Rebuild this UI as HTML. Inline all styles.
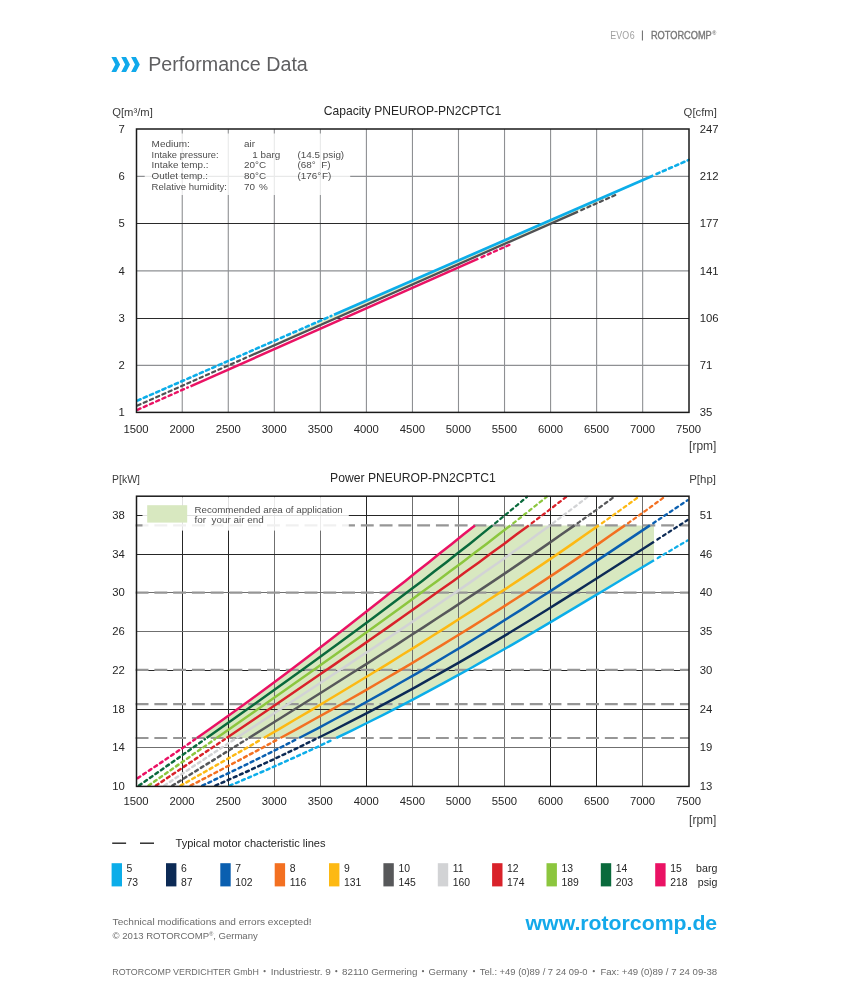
<!DOCTYPE html>
<html><head><meta charset="utf-8"><title>Performance Data</title>
<style>
html,body{margin:0;padding:0;background:#fff;}
body{width:862px;height:1000px;overflow:hidden;font-family:"Liberation Sans",sans-serif;}
svg{display:block;will-change:transform;font-family:"Liberation Sans",sans-serif;}
</style></head><body>
<svg width="862" height="1000" viewBox="0 0 862 1000">
<rect width="862" height="1000" fill="#fff"/>
<text x="610.3" y="38.7" font-size="10" fill="#a0a0a0" textLength="24.4" lengthAdjust="spacingAndGlyphs">EVO 6</text>
<line x1="642.4" y1="30.5" x2="642.4" y2="40.5" stroke="#666" stroke-width="1"/>
<text x="650.9" y="38.7" font-size="10" fill="#777" textLength="60.9" lengthAdjust="spacingAndGlyphs" stroke="#777" stroke-width="0.35">ROTORCOMP</text>
<text x="712.2" y="35.2" font-size="5.5" fill="#7a7a7a" font-weight="bold">®</text>
<path d="M111.40 56.9 h4.8 l3.9 7.6 l-3.9 7.6 h-4.8 l3.9 -7.6 z" fill="#10a9eb"/>
<path d="M121.25 56.9 h4.8 l3.9 7.6 l-3.9 7.6 h-4.8 l3.9 -7.6 z" fill="#10a9eb"/>
<path d="M131.10 56.9 h4.8 l3.9 7.6 l-3.9 7.6 h-4.8 l3.9 -7.6 z" fill="#10a9eb"/>
<text x="148.2" y="71.4" font-size="19.6" fill="#5f5f61" textLength="159.6" lengthAdjust="spacingAndGlyphs">Performance Data</text>
<text x="323.7" y="114.6" font-size="12.6" fill="#262626" textLength="177.6" lengthAdjust="spacingAndGlyphs">Capacity PNEUROP-PN2CPTC1</text>
<text x="112.2" y="115.8" font-size="11.8" fill="#3c3c3c" textLength="40.6" lengthAdjust="spacingAndGlyphs">Q[m³/m]</text>
<text x="683.6" y="115.8" font-size="11.8" fill="#3c3c3c" textLength="33.3" lengthAdjust="spacingAndGlyphs">Q[cfm]</text>
<line x1="182.24" y1="129.0" x2="182.24" y2="412.4" stroke="#8e9093" stroke-width="1.1"/>
<line x1="228.28" y1="129.0" x2="228.28" y2="412.4" stroke="#8e9093" stroke-width="1.1"/>
<line x1="274.32" y1="129.0" x2="274.32" y2="412.4" stroke="#8e9093" stroke-width="1.1"/>
<line x1="320.37" y1="129.0" x2="320.37" y2="412.4" stroke="#8e9093" stroke-width="1.1"/>
<line x1="366.41" y1="129.0" x2="366.41" y2="412.4" stroke="#8e9093" stroke-width="1.1"/>
<line x1="412.45" y1="129.0" x2="412.45" y2="412.4" stroke="#8e9093" stroke-width="1.1"/>
<line x1="458.49" y1="129.0" x2="458.49" y2="412.4" stroke="#8e9093" stroke-width="1.1"/>
<line x1="504.53" y1="129.0" x2="504.53" y2="412.4" stroke="#8e9093" stroke-width="1.1"/>
<line x1="550.58" y1="129.0" x2="550.58" y2="412.4" stroke="#8e9093" stroke-width="1.1"/>
<line x1="596.62" y1="129.0" x2="596.62" y2="412.4" stroke="#8e9093" stroke-width="1.1"/>
<line x1="642.66" y1="129.0" x2="642.66" y2="412.4" stroke="#8e9093" stroke-width="1.1"/>
<line x1="136.5" y1="176.30" x2="689.0" y2="176.30" stroke="#8e9093" stroke-width="1.15"/>
<line x1="136.5" y1="223.50" x2="689.0" y2="223.50" stroke="#2a2a2a" stroke-width="1"/>
<line x1="136.5" y1="270.90" x2="689.0" y2="270.90" stroke="#8e9093" stroke-width="1.15"/>
<line x1="136.5" y1="318.50" x2="689.0" y2="318.50" stroke="#2a2a2a" stroke-width="1"/>
<line x1="136.5" y1="365.40" x2="689.0" y2="365.40" stroke="#8e9093" stroke-width="1.15"/>
<text x="124.9" y="132.7" font-size="11.3" fill="#262626" text-anchor="end">7</text>
<text x="699.7" y="132.7" font-size="11.3" fill="#262626">247</text>
<text x="124.9" y="180.0" font-size="11.3" fill="#262626" text-anchor="end">6</text>
<text x="699.7" y="180.0" font-size="11.3" fill="#262626">212</text>
<text x="124.9" y="227.2" font-size="11.3" fill="#262626" text-anchor="end">5</text>
<text x="699.7" y="227.2" font-size="11.3" fill="#262626">177</text>
<text x="124.9" y="274.6" font-size="11.3" fill="#262626" text-anchor="end">4</text>
<text x="699.7" y="274.6" font-size="11.3" fill="#262626">141</text>
<text x="124.9" y="322.2" font-size="11.3" fill="#262626" text-anchor="end">3</text>
<text x="699.7" y="322.2" font-size="11.3" fill="#262626">106</text>
<text x="124.9" y="369.1" font-size="11.3" fill="#262626" text-anchor="end">2</text>
<text x="699.7" y="369.1" font-size="11.3" fill="#262626">71</text>
<text x="124.9" y="416.1" font-size="11.3" fill="#262626" text-anchor="end">1</text>
<text x="699.7" y="416.1" font-size="11.3" fill="#262626">35</text>
<text x="136.1" y="432.6" font-size="11.3" fill="#262626" text-anchor="middle">1500</text>
<text x="182.1" y="432.6" font-size="11.3" fill="#262626" text-anchor="middle">2000</text>
<text x="228.2" y="432.6" font-size="11.3" fill="#262626" text-anchor="middle">2500</text>
<text x="274.2" y="432.6" font-size="11.3" fill="#262626" text-anchor="middle">3000</text>
<text x="320.3" y="432.6" font-size="11.3" fill="#262626" text-anchor="middle">3500</text>
<text x="366.3" y="432.6" font-size="11.3" fill="#262626" text-anchor="middle">4000</text>
<text x="412.4" y="432.6" font-size="11.3" fill="#262626" text-anchor="middle">4500</text>
<text x="458.4" y="432.6" font-size="11.3" fill="#262626" text-anchor="middle">5000</text>
<text x="504.4" y="432.6" font-size="11.3" fill="#262626" text-anchor="middle">5500</text>
<text x="550.5" y="432.6" font-size="11.3" fill="#262626" text-anchor="middle">6000</text>
<text x="596.5" y="432.6" font-size="11.3" fill="#262626" text-anchor="middle">6500</text>
<text x="642.6" y="432.6" font-size="11.3" fill="#262626" text-anchor="middle">7000</text>
<text x="688.6" y="432.6" font-size="11.3" fill="#262626" text-anchor="middle">7500</text>
<text x="689.1" y="450.3" font-size="12.6" fill="#3c3c3c" textLength="27.2" lengthAdjust="spacingAndGlyphs">[rpm]</text>
<polygon points="334,314.8 653,175.5 578,211.6 248.8,356.5" fill="#e6eecb"/>
<line x1="137.5" y1="409.8" x2="187.9" y2="387.4" stroke="#ea1264" stroke-width="2.4" stroke-linecap="round" stroke-dasharray="3.3 3.5"/>
<line x1="190.5" y1="386.3" x2="478.3" y2="258.7" stroke="#ea1264" stroke-width="2.5"/>
<line x1="481.5" y1="257.3" x2="512.1" y2="243.7" stroke="#ea1264" stroke-width="2.4" stroke-linecap="round" stroke-dasharray="3.3 3.5"/>
<line x1="137.5" y1="405.5" x2="246.2" y2="357.6" stroke="#505153" stroke-width="2.1999999999999997" stroke-linecap="round" stroke-dasharray="3.3 3.5"/>
<line x1="248.8" y1="356.5" x2="578.0" y2="211.6" stroke="#505153" stroke-width="2.3"/>
<line x1="581.2" y1="210.2" x2="617.8" y2="194.0" stroke="#505153" stroke-width="2.1999999999999997" stroke-linecap="round" stroke-dasharray="3.3 3.5"/>
<line x1="137.5" y1="400.6" x2="331.4" y2="315.9" stroke="#0cade9" stroke-width="2.6" stroke-linecap="round" stroke-dasharray="3.3 3.5"/>
<line x1="334.0" y1="314.8" x2="653.3" y2="175.4" stroke="#0cade9" stroke-width="2.7"/>
<line x1="656.5" y1="174.0" x2="688.8" y2="159.9" stroke="#0cade9" stroke-width="2.6" stroke-linecap="round" stroke-dasharray="3.3 3.5"/>
<rect x="144.7" y="133.5" width="205.5" height="61.5" fill="#fff" fill-opacity="0.8"/>
<text x="151.6" y="147.3" font-size="9.9" fill="#4d4d4d" textLength="38.2" lengthAdjust="spacingAndGlyphs">Medium:</text>
<text x="244" y="147.3" font-size="9.9" fill="#4d4d4d" xml:space="preserve">air</text>
<text x="151.6" y="157.9" font-size="9.9" fill="#4d4d4d" textLength="67" lengthAdjust="spacingAndGlyphs">Intake pressure:</text>
<text x="241.2" y="157.9" font-size="9.9" fill="#4d4d4d" xml:space="preserve">  1 barg</text>
<text x="297.5" y="157.9" font-size="9.9" fill="#4d4d4d" xml:space="preserve">(14.5 psig)</text>
<text x="151.6" y="168.4" font-size="9.9" fill="#4d4d4d" textLength="56.9" lengthAdjust="spacingAndGlyphs">Intake temp.:</text>
<text x="244" y="168.4" font-size="9.9" fill="#4d4d4d" xml:space="preserve">20°C</text>
<text x="297.5" y="168.4" font-size="9.9" fill="#4d4d4d" xml:space="preserve">(68° F)</text>
<text x="151.6" y="179.0" font-size="9.9" fill="#4d4d4d" textLength="56.5" lengthAdjust="spacingAndGlyphs">Outlet temp.:</text>
<text x="244" y="179.0" font-size="9.9" fill="#4d4d4d" xml:space="preserve">80°C</text>
<text x="297.5" y="179.0" font-size="9.9" fill="#4d4d4d" xml:space="preserve">(176° F)</text>
<text x="151.6" y="189.5" font-size="9.9" fill="#4d4d4d" textLength="75.4" lengthAdjust="spacingAndGlyphs">Relative humidity:</text>
<text x="244" y="189.5" font-size="9.9" fill="#4d4d4d" xml:space="preserve">70  %</text>
<rect x="136.5" y="129.0" width="552.5" height="283.4" fill="none" stroke="#1a1a1a" stroke-width="1.5"/>
<text x="330.1" y="482.1" font-size="12.6" fill="#262626" textLength="165.6" lengthAdjust="spacingAndGlyphs">Power PNEUROP-PN2CPTC1</text>
<text x="112.1" y="482.7" font-size="11.8" fill="#3c3c3c" textLength="27.8" lengthAdjust="spacingAndGlyphs">P[kW]</text>
<text x="689.2" y="482.7" font-size="11.8" fill="#3c3c3c" textLength="26.8" lengthAdjust="spacingAndGlyphs">P[hp]</text>
<polygon points="196.9,738.0 212.9,726.8 228.6,715.6 244.1,704.4 259.4,693.2 274.5,682.1 289.5,670.9 304.3,659.7 319.0,648.5 333.5,637.3 347.9,626.1 362.3,614.9 376.5,603.7 390.7,592.5 404.8,581.3 418.9,570.2 432.9,559.0 446.9,547.8 460.9,536.6 475.0,525.4 654.0,525.4 654.0,560.3 638.3,569.7 622.7,579.0 607.1,588.4 591.5,597.7 575.9,607.1 560.2,616.4 544.4,625.8 528.5,635.1 512.4,644.5 496.1,653.8 479.6,663.2 462.9,672.5 445.8,681.9 428.5,691.2 410.8,700.6 392.8,709.9 374.4,719.3 355.5,728.6 336.2,738.0" fill="#d8e8c0"/>
<line x1="182.5" y1="496.2" x2="182.5" y2="786.4" stroke="#262626" stroke-width="1"/>
<line x1="228.5" y1="496.2" x2="228.5" y2="786.4" stroke="#262626" stroke-width="1"/>
<line x1="274.5" y1="496.2" x2="274.5" y2="786.4" stroke="#6f6f6f" stroke-width="1"/>
<line x1="320.5" y1="496.2" x2="320.5" y2="786.4" stroke="#6f6f6f" stroke-width="1"/>
<line x1="366.5" y1="496.2" x2="366.5" y2="786.4" stroke="#262626" stroke-width="1"/>
<line x1="412.5" y1="496.2" x2="412.5" y2="786.4" stroke="#6f6f6f" stroke-width="1"/>
<line x1="458.5" y1="496.2" x2="458.5" y2="786.4" stroke="#6f6f6f" stroke-width="1"/>
<line x1="504.5" y1="496.2" x2="504.5" y2="786.4" stroke="#6f6f6f" stroke-width="1"/>
<line x1="550.5" y1="496.2" x2="550.5" y2="786.4" stroke="#262626" stroke-width="1"/>
<line x1="596.5" y1="496.2" x2="596.5" y2="786.4" stroke="#262626" stroke-width="1"/>
<line x1="642.5" y1="496.2" x2="642.5" y2="786.4" stroke="#6f6f6f" stroke-width="1"/>
<line x1="136.5" y1="747.5" x2="689.0" y2="747.5" stroke="#6f6f6f" stroke-width="1"/>
<line x1="136.5" y1="709.5" x2="689.0" y2="709.5" stroke="#262626" stroke-width="1"/>
<line x1="136.5" y1="670.5" x2="689.0" y2="670.5" stroke="#262626" stroke-width="1"/>
<line x1="136.5" y1="631.5" x2="689.0" y2="631.5" stroke="#6f6f6f" stroke-width="1"/>
<line x1="136.5" y1="592.5" x2="689.0" y2="592.5" stroke="#6f6f6f" stroke-width="1"/>
<line x1="136.5" y1="554.5" x2="689.0" y2="554.5" stroke="#262626" stroke-width="1"/>
<line x1="136.5" y1="515.5" x2="689.0" y2="515.5" stroke="#262626" stroke-width="1"/>
<line x1="135.6" y1="738.00" x2="689.0" y2="738.00" stroke="#969696" stroke-width="2.2" stroke-dasharray="12.9 5.87"/>
<line x1="135.6" y1="704.20" x2="689.0" y2="704.20" stroke="#969696" stroke-width="2.2" stroke-dasharray="12.9 5.87"/>
<line x1="135.6" y1="669.90" x2="689.0" y2="669.90" stroke="#969696" stroke-width="2.2" stroke-dasharray="12.9 5.87"/>
<line x1="135.6" y1="592.70" x2="689.0" y2="592.70" stroke="#969696" stroke-width="2.2" stroke-dasharray="12.9 5.87"/>
<line x1="135.6" y1="525.40" x2="689.0" y2="525.40" stroke="#969696" stroke-width="2.2" stroke-dasharray="12.9 5.87"/>
<path d="M229.7 785.6 L234.6 783.6 L239.4 781.6 L244.1 779.5 L248.9 777.5 L253.6 775.5 L258.2 773.5 L262.9 771.5 L267.5 769.5 L272.1 767.4 L276.7 765.4 L281.2 763.4 L285.7 761.4 L290.2 759.4 L294.7 757.4 L299.1 755.3 L303.5 753.3 L307.9 751.3 L312.3 749.3 L316.6 747.3 L320.9 745.3 L325.2 743.2 L329.5 741.2 L333.7 739.2" fill="none" stroke="#0cade9" stroke-width="2.5" stroke-linecap="round" stroke-dasharray="3.0 3.7"/>
<path d="M336.2 738.0 L352.2 730.3 L367.9 722.5 L383.2 714.8 L398.3 707.1 L413.2 699.4 L427.7 691.6 L442.1 683.9 L456.2 676.2 L470.2 668.5 L483.9 660.7 L497.5 653.0 L511.0 645.3 L524.3 637.6 L537.5 629.8 L550.6 622.1 L563.6 614.4 L576.6 606.7 L589.5 598.9 L602.4 591.2 L615.3 583.5 L628.1 575.8 L641.1 568.0 L654.0 560.3" fill="none" stroke="#0cade9" stroke-width="2.5"/>
<path d="M657.7 558.1 L659.0 557.3 L660.3 556.6 L661.6 555.8 L662.8 555.0 L664.1 554.3 L665.4 553.5 L666.7 552.7 L668.0 552.0 L669.3 551.2 L670.6 550.5 L671.9 549.7 L673.2 548.9 L674.5 548.2 L675.8 547.4 L677.1 546.6 L678.4 545.9 L679.7 545.1 L681.0 544.3 L682.3 543.6 L683.6 542.8 L684.9 542.0 L686.2 541.3 L687.5 540.5" fill="none" stroke="#0cade9" stroke-width="2.25" stroke-linecap="round" stroke-dasharray="3.0 3.7"/>
<path d="M215.4 785.6 L220.0 783.6 L224.6 781.6 L229.1 779.5 L233.7 777.5 L238.2 775.5 L242.6 773.5 L247.1 771.5 L251.5 769.5 L255.9 767.4 L260.3 765.4 L264.7 763.4 L269.0 761.4 L273.4 759.4 L277.7 757.4 L281.9 755.3 L286.2 753.3 L290.4 751.3 L294.7 749.3 L298.8 747.3 L303.0 745.3 L307.2 743.2 L311.3 741.2 L315.4 739.2" fill="none" stroke="#0c2a55" stroke-width="2.5" stroke-linecap="round" stroke-dasharray="3.0 3.7"/>
<path d="M317.9 738.0 L335.0 729.5 L351.8 720.9 L368.3 712.4 L384.5 703.9 L400.4 695.3 L416.0 686.8 L431.4 678.2 L446.5 669.7 L461.4 661.2 L476.1 652.6 L490.5 644.1 L504.8 635.6 L518.9 627.0 L532.9 618.5 L546.7 610.0 L560.4 601.4 L574.0 592.9 L587.5 584.3 L600.9 575.8 L614.2 567.3 L627.5 558.7 L640.8 550.2 L654.0 541.7" fill="none" stroke="#0c2a55" stroke-width="2.5"/>
<path d="M657.4 539.5 L658.7 538.6 L660.0 537.8 L661.3 536.9 L662.6 536.1 L664.0 535.2 L665.3 534.4 L666.6 533.5 L667.9 532.7 L669.2 531.9 L670.5 531.0 L671.8 530.2 L673.1 529.3 L674.4 528.5 L675.8 527.6 L677.1 526.8 L678.4 525.9 L679.7 525.1 L681.0 524.2 L682.3 523.4 L683.6 522.5 L684.9 521.7 L686.3 520.9 L687.6 520.0" fill="none" stroke="#0c2a55" stroke-width="2.25" stroke-linecap="round" stroke-dasharray="3.0 3.7"/>
<path d="M202.3 785.6 L206.6 783.6 L210.9 781.6 L215.1 779.5 L219.4 777.5 L223.6 775.5 L227.8 773.5 L232.0 771.5 L236.2 769.5 L240.4 767.4 L244.5 765.4 L248.6 763.4 L252.7 761.4 L256.8 759.4 L260.9 757.4 L264.9 755.3 L269.0 753.3 L273.0 751.3 L277.0 749.3 L281.0 747.3 L284.9 745.3 L288.9 743.2 L292.8 741.2 L296.7 739.2" fill="none" stroke="#0a5fb0" stroke-width="2.5" stroke-linecap="round" stroke-dasharray="3.0 3.7"/>
<path d="M299.1 738.0 L316.8 728.8 L334.2 719.5 L351.3 710.3 L368.1 701.0 L384.6 691.8 L400.8 682.5 L416.9 673.3 L432.6 664.1 L448.2 654.8 L463.5 645.6 L478.7 636.3 L493.6 627.1 L508.4 617.8 L523.0 608.6 L537.5 599.3 L551.9 590.1 L566.1 580.9 L580.3 571.6 L594.3 562.4 L608.3 553.1 L622.2 543.9 L636.1 534.6 L649.9 525.4" fill="none" stroke="#0a5fb0" stroke-width="2.5"/>
<path d="M653.2 523.2 L654.7 522.2 L656.2 521.2 L657.7 520.2 L659.2 519.2 L660.7 518.2 L662.2 517.2 L663.7 516.2 L665.2 515.2 L666.7 514.2 L668.2 513.2 L669.7 512.2 L671.2 511.2 L672.6 510.2 L674.1 509.2 L675.6 508.2 L677.1 507.2 L678.6 506.2 L680.1 505.2 L681.6 504.2 L683.1 503.2 L684.6 502.2 L686.1 501.2 L687.6 500.2" fill="none" stroke="#0a5fb0" stroke-width="2.25" stroke-linecap="round" stroke-dasharray="3.0 3.7"/>
<path d="M190.6 785.6 L194.5 783.6 L198.4 781.6 L202.3 779.5 L206.2 777.5 L210.0 775.5 L213.9 773.5 L217.7 771.5 L221.6 769.5 L225.4 767.4 L229.2 765.4 L233.1 763.4 L236.9 761.4 L240.7 759.4 L244.4 757.4 L248.2 755.3 L252.0 753.3 L255.8 751.3 L259.5 749.3 L263.3 747.3 L267.0 745.3 L270.7 743.2 L274.4 741.2 L278.2 739.2" fill="none" stroke="#f37021" stroke-width="2.5" stroke-linecap="round" stroke-dasharray="3.0 3.7"/>
<path d="M280.4 738.0 L297.2 728.8 L313.9 719.5 L330.4 710.3 L346.8 701.0 L362.9 691.8 L378.9 682.5 L394.7 673.3 L410.4 664.1 L425.8 654.8 L441.1 645.6 L456.3 636.3 L471.2 627.1 L486.0 617.8 L500.6 608.6 L515.1 599.3 L529.4 590.1 L543.5 580.9 L557.5 571.6 L571.3 562.4 L584.9 553.1 L598.4 543.9 L611.7 534.6 L624.9 525.4" fill="none" stroke="#f37021" stroke-width="2.5"/>
<path d="M628.0 523.2 L629.6 522.1 L631.2 520.9 L632.8 519.8 L634.5 518.6 L636.1 517.5 L637.7 516.3 L639.3 515.2 L640.9 514.0 L642.5 512.9 L644.1 511.7 L645.7 510.6 L647.3 509.4 L648.9 508.3 L650.5 507.1 L652.0 506.0 L653.6 504.8 L655.2 503.7 L656.8 502.5 L658.4 501.4 L659.9 500.2 L661.5 499.1 L663.1 497.9 L664.7 496.8" fill="none" stroke="#f37021" stroke-width="2.25" stroke-linecap="round" stroke-dasharray="3.0 3.7"/>
<path d="M180.6 785.6 L184.2 783.6 L187.7 781.6 L191.3 779.5 L194.9 777.5 L198.4 775.5 L202.0 773.5 L205.5 771.5 L209.1 769.5 L212.6 767.4 L216.1 765.4 L219.6 763.4 L223.2 761.4 L226.7 759.4 L230.2 757.4 L233.7 755.3 L237.2 753.3 L240.7 751.3 L244.2 749.3 L247.7 747.3 L251.2 745.3 L254.7 743.2 L258.1 741.2 L261.6 739.2" fill="none" stroke="#fdb913" stroke-width="2.5" stroke-linecap="round" stroke-dasharray="3.0 3.7"/>
<path d="M263.7 738.0 L279.5 728.8 L295.2 719.5 L310.9 710.3 L326.4 701.0 L341.8 691.8 L357.1 682.5 L372.3 673.3 L387.4 664.1 L402.3 654.8 L417.2 645.6 L431.9 636.3 L446.5 627.1 L461.0 617.8 L475.4 608.6 L489.6 599.3 L503.7 590.1 L517.7 580.9 L531.6 571.6 L545.3 562.4 L558.9 553.1 L572.3 543.9 L585.6 534.6 L598.8 525.4" fill="none" stroke="#fdb913" stroke-width="2.5"/>
<path d="M601.9 523.2 L603.5 522.1 L605.2 520.9 L606.8 519.8 L608.4 518.6 L610.0 517.5 L611.6 516.3 L613.2 515.2 L614.8 514.0 L616.4 512.9 L618.0 511.7 L619.6 510.6 L621.2 509.4 L622.8 508.3 L624.4 507.1 L626.0 506.0 L627.6 504.8 L629.2 503.7 L630.8 502.5 L632.4 501.4 L633.9 500.2 L635.5 499.1 L637.1 497.9 L638.7 496.8" fill="none" stroke="#fdb913" stroke-width="2.25" stroke-linecap="round" stroke-dasharray="3.0 3.7"/>
<path d="M172.4 785.6 L175.7 783.6 L178.9 781.6 L182.2 779.5 L185.4 777.5 L188.6 775.5 L191.9 773.5 L195.1 771.5 L198.3 769.5 L201.6 767.4 L204.8 765.4 L208.1 763.4 L211.3 761.4 L214.5 759.4 L217.8 757.4 L221.0 755.3 L224.2 753.3 L227.5 751.3 L230.7 749.3 L233.9 747.3 L237.2 745.3 L240.4 743.2 L243.6 741.2 L246.9 739.2" fill="none" stroke="#57585a" stroke-width="2.5" stroke-linecap="round" stroke-dasharray="3.0 3.7"/>
<path d="M248.8 738.0 L263.6 728.8 L278.3 719.5 L293.1 710.3 L307.8 701.0 L322.5 691.8 L337.1 682.5 L351.7 673.3 L366.2 664.1 L380.7 654.8 L395.1 645.6 L409.4 636.3 L423.7 627.1 L437.9 617.8 L452.0 608.6 L466.0 599.3 L479.9 590.1 L493.8 580.9 L507.5 571.6 L521.1 562.4 L534.6 553.1 L548.0 543.9 L561.3 534.6 L574.5 525.4" fill="none" stroke="#57585a" stroke-width="2.5"/>
<path d="M577.6 523.2 L579.2 522.1 L580.8 520.9 L582.4 519.8 L584.0 518.6 L585.6 517.5 L587.3 516.3 L588.9 515.2 L590.5 514.0 L592.1 512.9 L593.7 511.7 L595.3 510.6 L596.9 509.4 L598.5 508.3 L600.1 507.1 L601.6 506.0 L603.2 504.8 L604.8 503.7 L606.4 502.5 L608.0 501.4 L609.6 500.2 L611.1 499.1 L612.7 497.9 L614.3 496.8" fill="none" stroke="#57585a" stroke-width="2.25" stroke-linecap="round" stroke-dasharray="3.0 3.7"/>
<path d="M164.4 785.6 L167.4 783.6 L170.4 781.6 L173.5 779.5 L176.5 777.5 L179.6 775.5 L182.6 773.5 L185.7 771.5 L188.7 769.5 L191.7 767.4 L194.8 765.4 L197.9 763.4 L200.9 761.4 L204.0 759.4 L207.0 757.4 L210.1 755.3 L213.2 753.3 L216.2 751.3 L219.3 749.3 L222.4 747.3 L225.4 745.3 L228.5 743.2 L231.6 741.2 L234.6 739.2" fill="none" stroke="#d2d3d5" stroke-width="2.5" stroke-linecap="round" stroke-dasharray="3.0 3.7"/>
<path d="M236.5 738.0 L250.5 728.8 L264.6 719.5 L278.7 710.3 L292.8 701.0 L306.9 691.8 L321.0 682.5 L335.0 673.3 L349.0 664.1 L363.0 654.8 L376.9 645.6 L390.8 636.3 L404.5 627.1 L418.3 617.8 L431.9 608.6 L445.5 599.3 L458.9 590.1 L472.3 580.9 L485.5 571.6 L498.6 562.4 L511.7 553.1 L524.5 543.9 L537.3 534.6 L549.9 525.4" fill="none" stroke="#d2d3d5" stroke-width="2.5"/>
<path d="M552.8 523.2 L554.4 522.1 L555.9 520.9 L557.5 519.8 L559.0 518.6 L560.5 517.5 L562.1 516.3 L563.6 515.2 L565.1 514.0 L566.7 512.9 L568.2 511.7 L569.7 510.6 L571.2 509.4 L572.8 508.3 L574.3 507.1 L575.8 506.0 L577.3 504.8 L578.8 503.7 L580.3 502.5 L581.8 501.4 L583.3 500.2 L584.8 499.1 L586.3 497.9 L587.8 496.8" fill="none" stroke="#d2d3d5" stroke-width="2.25" stroke-linecap="round" stroke-dasharray="3.0 3.7"/>
<path d="M155.9 785.6 L158.9 783.6 L161.9 781.6 L164.9 779.5 L167.9 777.5 L170.9 775.5 L173.9 773.5 L176.9 771.5 L179.9 769.5 L182.9 767.4 L185.9 765.4 L188.9 763.4 L191.9 761.4 L194.9 759.4 L197.8 757.4 L200.8 755.3 L203.8 753.3 L206.8 751.3 L209.8 749.3 L212.8 747.3 L215.8 745.3 L218.8 743.2 L221.8 741.2 L224.8 739.2" fill="none" stroke="#d9222a" stroke-width="2.5" stroke-linecap="round" stroke-dasharray="3.0 3.7"/>
<path d="M226.5 738.0 L240.2 728.8 L253.9 719.5 L267.5 710.3 L281.1 701.0 L294.6 691.8 L308.1 682.5 L321.6 673.3 L335.0 664.1 L348.4 654.8 L361.7 645.6 L375.0 636.3 L388.2 627.1 L401.4 617.8 L414.5 608.6 L427.5 599.3 L440.4 590.1 L453.3 580.9 L466.1 571.6 L478.8 562.4 L491.4 553.1 L504.0 543.9 L516.4 534.6 L528.8 525.4" fill="none" stroke="#d9222a" stroke-width="2.5"/>
<path d="M531.7 523.2 L533.2 522.1 L534.8 520.9 L536.3 519.8 L537.8 518.6 L539.3 517.5 L540.8 516.3 L542.4 515.2 L543.9 514.0 L545.4 512.9 L546.9 511.7 L548.4 510.6 L549.9 509.4 L551.4 508.3 L552.9 507.1 L554.4 506.0 L555.9 504.8 L557.4 503.7 L558.9 502.5 L560.4 501.4 L561.9 500.2 L563.4 499.1 L564.9 497.9 L566.4 496.8" fill="none" stroke="#d9222a" stroke-width="2.25" stroke-linecap="round" stroke-dasharray="3.0 3.7"/>
<path d="M148.6 785.6 L151.5 783.6 L154.3 781.6 L157.2 779.5 L160.1 777.5 L163.0 775.5 L165.9 773.5 L168.7 771.5 L171.6 769.5 L174.5 767.4 L177.4 765.4 L180.3 763.4 L183.2 761.4 L186.1 759.4 L188.9 757.4 L191.8 755.3 L194.7 753.3 L197.6 751.3 L200.5 749.3 L203.4 747.3 L206.3 745.3 L209.2 743.2 L212.0 741.2 L214.9 739.2" fill="none" stroke="#8cc63e" stroke-width="2.5" stroke-linecap="round" stroke-dasharray="3.0 3.7"/>
<path d="M216.6 738.0 L229.9 728.8 L243.1 719.5 L256.3 710.3 L269.5 701.0 L282.7 691.8 L295.8 682.5 L309.0 673.3 L322.0 664.1 L335.1 654.8 L348.1 645.6 L361.0 636.3 L373.9 627.1 L386.7 617.8 L399.5 608.6 L412.2 599.3 L424.8 590.1 L437.3 580.9 L449.8 571.6 L462.1 562.4 L474.4 553.1 L486.5 543.9 L498.6 534.6 L510.5 525.4" fill="none" stroke="#8cc63e" stroke-width="2.5"/>
<path d="M513.3 523.2 L514.8 522.1 L516.3 520.9 L517.7 519.8 L519.2 518.6 L520.7 517.5 L522.1 516.3 L523.6 515.2 L525.0 514.0 L526.5 512.9 L528.0 511.7 L529.4 510.6 L530.9 509.4 L532.3 508.3 L533.8 507.1 L535.2 506.0 L536.6 504.8 L538.1 503.7 L539.5 502.5 L541.0 501.4 L542.4 500.2 L543.8 499.1 L545.3 497.9 L546.7 496.8" fill="none" stroke="#8cc63e" stroke-width="2.25" stroke-linecap="round" stroke-dasharray="3.0 3.7"/>
<path d="M139.0 785.6 L141.9 783.6 L144.8 781.6 L147.6 779.5 L150.5 777.5 L153.4 775.5 L156.2 773.5 L159.1 771.5 L162.0 769.5 L164.8 767.4 L167.7 765.4 L170.6 763.4 L173.4 761.4 L176.3 759.4 L179.2 757.4 L182.0 755.3 L184.9 753.3 L187.8 751.3 L190.6 749.3 L193.5 747.3 L196.4 745.3 L199.2 743.2 L202.1 741.2 L204.9 739.2" fill="none" stroke="#0a6a3c" stroke-width="2.5" stroke-linecap="round" stroke-dasharray="3.0 3.7"/>
<path d="M206.6 738.0 L219.7 728.8 L232.8 719.5 L245.8 710.3 L258.8 701.0 L271.7 691.8 L284.6 682.5 L297.5 673.3 L310.3 664.1 L323.0 654.8 L335.7 645.6 L348.3 636.3 L360.8 627.1 L373.3 617.8 L385.6 608.6 L397.9 599.3 L410.1 590.1 L422.2 580.9 L434.2 571.6 L446.1 562.4 L457.9 553.1 L469.6 543.9 L481.1 534.6 L492.5 525.4" fill="none" stroke="#0a6a3c" stroke-width="2.5"/>
<path d="M495.2 523.2 L496.6 522.1 L498.0 520.9 L499.4 519.8 L500.8 518.6 L502.2 517.5 L503.6 516.3 L505.0 515.2 L506.4 514.0 L507.8 512.9 L509.2 511.7 L510.6 510.6 L512.0 509.4 L513.4 508.3 L514.7 507.1 L516.1 506.0 L517.5 504.8 L518.9 503.7 L520.2 502.5 L521.6 501.4 L523.0 500.2 L524.3 499.1 L525.7 497.9 L527.0 496.8" fill="none" stroke="#0a6a3c" stroke-width="2.25" stroke-linecap="round" stroke-dasharray="3.0 3.7"/>
<path d="M137.7 778.1 L140.3 776.4 L142.8 774.7 L145.4 773.0 L147.9 771.3 L150.5 769.6 L153.0 767.9 L155.6 766.2 L158.1 764.6 L160.6 762.9 L163.1 761.2 L165.6 759.5 L168.1 757.8 L170.6 756.1 L173.1 754.4 L175.6 752.7 L178.0 751.0 L180.5 749.3 L183.0 747.7 L185.4 746.0 L187.9 744.3 L190.3 742.6 L192.8 740.9 L195.2 739.2" fill="none" stroke="#ea1264" stroke-width="2.5" stroke-linecap="round" stroke-dasharray="3.0 3.7"/>
<path d="M196.9 738.0 L210.1 728.8 L223.1 719.5 L236.0 710.3 L248.8 701.0 L261.4 691.8 L273.9 682.5 L286.3 673.3 L298.5 664.1 L310.7 654.8 L322.8 645.6 L334.8 636.3 L346.7 627.1 L358.5 617.8 L370.3 608.6 L382.1 599.3 L393.7 590.1 L405.4 580.9 L417.0 571.6 L428.6 562.4 L440.2 553.1 L451.8 543.9 L463.4 534.6 L475.0 525.4" fill="none" stroke="#ea1264" stroke-width="2.5"/>
<rect x="142.5" y="497.2" width="206.3" height="33.4" fill="#fff" fill-opacity="0.86"/>
<rect x="147.2" y="505.2" width="40" height="17.4" fill="#d8e8c0"/>
<text x="194.5" y="512.6" font-size="9.9" fill="#4d4d4d" textLength="148.3" lengthAdjust="spacingAndGlyphs">Recommended area of application</text>
<text x="194.5" y="523.3" font-size="9.9" fill="#4d4d4d" xml:space="preserve">for  your air end</text>
<rect x="136.5" y="496.2" width="552.5" height="290.2" fill="none" stroke="#1a1a1a" stroke-width="1.5"/>
<text x="124.9" y="519.0" font-size="11.3" fill="#262626" text-anchor="end">38</text>
<text x="699.7" y="519.0" font-size="11.3" fill="#262626">51</text>
<text x="124.9" y="557.7" font-size="11.3" fill="#262626" text-anchor="end">34</text>
<text x="699.7" y="557.7" font-size="11.3" fill="#262626">46</text>
<text x="124.9" y="596.4" font-size="11.3" fill="#262626" text-anchor="end">30</text>
<text x="699.7" y="596.4" font-size="11.3" fill="#262626">40</text>
<text x="124.9" y="635.1" font-size="11.3" fill="#262626" text-anchor="end">26</text>
<text x="699.7" y="635.1" font-size="11.3" fill="#262626">35</text>
<text x="124.9" y="673.8" font-size="11.3" fill="#262626" text-anchor="end">22</text>
<text x="699.7" y="673.8" font-size="11.3" fill="#262626">30</text>
<text x="124.9" y="712.5" font-size="11.3" fill="#262626" text-anchor="end">18</text>
<text x="699.7" y="712.5" font-size="11.3" fill="#262626">24</text>
<text x="124.9" y="751.2" font-size="11.3" fill="#262626" text-anchor="end">14</text>
<text x="699.7" y="751.2" font-size="11.3" fill="#262626">19</text>
<text x="124.9" y="789.9" font-size="11.3" fill="#262626" text-anchor="end">10</text>
<text x="699.7" y="789.9" font-size="11.3" fill="#262626">13</text>
<text x="136.1" y="805.4" font-size="11.3" fill="#262626" text-anchor="middle">1500</text>
<text x="182.1" y="805.4" font-size="11.3" fill="#262626" text-anchor="middle">2000</text>
<text x="228.2" y="805.4" font-size="11.3" fill="#262626" text-anchor="middle">2500</text>
<text x="274.2" y="805.4" font-size="11.3" fill="#262626" text-anchor="middle">3000</text>
<text x="320.3" y="805.4" font-size="11.3" fill="#262626" text-anchor="middle">3500</text>
<text x="366.3" y="805.4" font-size="11.3" fill="#262626" text-anchor="middle">4000</text>
<text x="412.4" y="805.4" font-size="11.3" fill="#262626" text-anchor="middle">4500</text>
<text x="458.4" y="805.4" font-size="11.3" fill="#262626" text-anchor="middle">5000</text>
<text x="504.4" y="805.4" font-size="11.3" fill="#262626" text-anchor="middle">5500</text>
<text x="550.5" y="805.4" font-size="11.3" fill="#262626" text-anchor="middle">6000</text>
<text x="596.5" y="805.4" font-size="11.3" fill="#262626" text-anchor="middle">6500</text>
<text x="642.6" y="805.4" font-size="11.3" fill="#262626" text-anchor="middle">7000</text>
<text x="688.6" y="805.4" font-size="11.3" fill="#262626" text-anchor="middle">7500</text>
<text x="689.1" y="824.3" font-size="12.6" fill="#3c3c3c" textLength="27.2" lengthAdjust="spacingAndGlyphs">[rpm]</text>
<line x1="112.2" y1="843.2" x2="126.1" y2="843.2" stroke="#222" stroke-width="1.4"/>
<line x1="140" y1="843.2" x2="154" y2="843.2" stroke="#222" stroke-width="1.4"/>
<text x="175.5" y="846.6" font-size="11" fill="#262626" textLength="150" lengthAdjust="spacingAndGlyphs">Typical motor chacteristic lines</text>
<rect x="111.6" y="863.2" width="10.4" height="23.2" fill="#0cade9"/>
<text x="126.6" y="872.4" font-size="10.4" fill="#262626">5</text>
<text x="126.6" y="885.8" font-size="10.4" fill="#262626">73</text>
<rect x="166.0" y="863.2" width="10.4" height="23.2" fill="#0c2a55"/>
<text x="181.0" y="872.4" font-size="10.4" fill="#262626">6</text>
<text x="181.0" y="885.8" font-size="10.4" fill="#262626">87</text>
<rect x="220.3" y="863.2" width="10.4" height="23.2" fill="#0a5fb0"/>
<text x="235.3" y="872.4" font-size="10.4" fill="#262626">7</text>
<text x="235.3" y="885.8" font-size="10.4" fill="#262626">102</text>
<rect x="274.7" y="863.2" width="10.4" height="23.2" fill="#f37021"/>
<text x="289.7" y="872.4" font-size="10.4" fill="#262626">8</text>
<text x="289.7" y="885.8" font-size="10.4" fill="#262626">116</text>
<rect x="329.0" y="863.2" width="10.4" height="23.2" fill="#fdb913"/>
<text x="344.0" y="872.4" font-size="10.4" fill="#262626">9</text>
<text x="344.0" y="885.8" font-size="10.4" fill="#262626">131</text>
<rect x="383.4" y="863.2" width="10.4" height="23.2" fill="#57585a"/>
<text x="398.4" y="872.4" font-size="10.4" fill="#262626">10</text>
<text x="398.4" y="885.8" font-size="10.4" fill="#262626">145</text>
<rect x="437.8" y="863.2" width="10.4" height="23.2" fill="#d2d3d5"/>
<text x="452.8" y="872.4" font-size="10.4" fill="#262626">11</text>
<text x="452.8" y="885.8" font-size="10.4" fill="#262626">160</text>
<rect x="492.1" y="863.2" width="10.4" height="23.2" fill="#d9222a"/>
<text x="507.1" y="872.4" font-size="10.4" fill="#262626">12</text>
<text x="507.1" y="885.8" font-size="10.4" fill="#262626">174</text>
<rect x="546.5" y="863.2" width="10.4" height="23.2" fill="#8cc63e"/>
<text x="561.5" y="872.4" font-size="10.4" fill="#262626">13</text>
<text x="561.5" y="885.8" font-size="10.4" fill="#262626">189</text>
<rect x="600.8" y="863.2" width="10.4" height="23.2" fill="#0a6a3c"/>
<text x="615.8" y="872.4" font-size="10.4" fill="#262626">14</text>
<text x="615.8" y="885.8" font-size="10.4" fill="#262626">203</text>
<rect x="655.2" y="863.2" width="10.4" height="23.2" fill="#ea1264"/>
<text x="670.2" y="872.4" font-size="10.4" fill="#262626">15</text>
<text x="670.2" y="885.8" font-size="10.4" fill="#262626">218</text>
<text x="717.3" y="872.4" font-size="10.6" fill="#262626" text-anchor="end">barg</text>
<text x="717.3" y="885.8" font-size="10.6" fill="#262626" text-anchor="end">psig</text>
<text x="112.6" y="924.8" font-size="9.9" fill="#6a6a6a" textLength="199" lengthAdjust="spacingAndGlyphs">Technical modifications and errors excepted!</text>
<text x="112.6" y="939.2" font-size="9.55" fill="#6a6a6a">© 2013 ROTORCOMP<tspan font-size="5.5" dy="-3.2">®</tspan><tspan dy="3.2">, Germany</tspan></text>
<text x="525.6" y="929.8" font-size="21" fill="#14a9ea" textLength="191.6" lengthAdjust="spacingAndGlyphs" font-weight="bold">www.rotorcomp.de</text>
<text x="112.3" y="974.5" font-size="9.4" fill="#6a6a6a" textLength="146.6" lengthAdjust="spacingAndGlyphs">ROTORCOMP VERDICHTER GmbH</text>
<text x="270.7" y="974.5" font-size="9.4" fill="#6a6a6a" textLength="60.2" lengthAdjust="spacingAndGlyphs">Industriestr. 9</text>
<text x="342" y="974.5" font-size="9.4" fill="#6a6a6a" textLength="75.4" lengthAdjust="spacingAndGlyphs">82110 Germering</text>
<text x="428.6" y="974.5" font-size="9.4" fill="#6a6a6a" textLength="39.0" lengthAdjust="spacingAndGlyphs">Germany</text>
<text x="479.8" y="974.5" font-size="9.4" fill="#6a6a6a" textLength="107.7" lengthAdjust="spacingAndGlyphs">Tel.: +49 (0)89 / 7 24 09-0</text>
<text x="600.4" y="974.5" font-size="9.4" fill="#6a6a6a" textLength="116.8" lengthAdjust="spacingAndGlyphs">Fax: +49 (0)89 / 7 24 09-38</text>
<circle cx="264.6" cy="971.2" r="1.1" fill="#6a6a6a"/>
<circle cx="336.3" cy="971.2" r="1.1" fill="#6a6a6a"/>
<circle cx="423" cy="971.2" r="1.1" fill="#6a6a6a"/>
<circle cx="474" cy="971.2" r="1.1" fill="#6a6a6a"/>
<circle cx="593.8" cy="971.2" r="1.1" fill="#6a6a6a"/>
</svg>
</body></html>
